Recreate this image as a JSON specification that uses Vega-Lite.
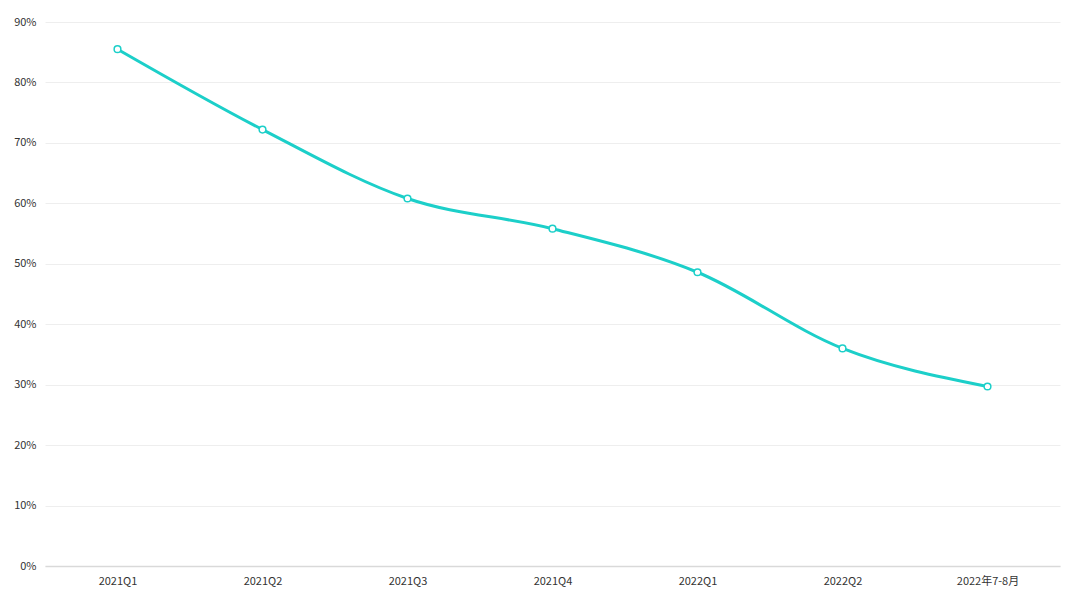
{
  "$schema": "https://vega.github.io/schema/vega-lite/v6.json",
  "width": 1015,
  "height": 544,
  "autosize": {"type": "none"},
  "padding": {"left": 45, "top": 22, "right": 20, "bottom": 38},
  "background": "white",
  "config": {
    "view": {"stroke": null},
    "font": "Noto Sans CJK SC",
    "axis": {"labelFont": "Noto Sans CJK SC", "labelColor": "#333333", "labelFontSize": 11}
  },
  "data": {
    "values": [
      {"period": "2021Q1", "value": 0.855},
      {"period": "2021Q2", "value": 0.722},
      {"period": "2021Q3", "value": 0.608},
      {"period": "2021Q4", "value": 0.558},
      {"period": "2022Q1", "value": 0.486},
      {"period": "2022Q2", "value": 0.360},
      {"period": "2022年7-8月", "value": 0.297}
    ]
  },
  "encoding": {
    "x": {
      "field": "period", "type": "nominal", "sort": null,
      "axis": {"title": null, "labelAngle": 0, "ticks": false, "domainColor": "#d9d9d9", "domainWidth": 1.5, "labelPadding": 9}
    },
    "y": {
      "field": "value", "type": "quantitative",
      "scale": {"domain": [0, 0.9], "nice": false},
      "axis": {"title": null, "format": ".0%", "values": [0, 0.1, 0.2, 0.3, 0.4, 0.5, 0.6, 0.7, 0.8, 0.9], "domain": false, "ticks": false, "gridColor": "#eeeeee", "labelPadding": 9}
    }
  },
  "layer": [
    {"mark": {"type": "line", "interpolate": "monotone", "color": "#1ccfc9", "strokeWidth": 3}},
    {"mark": {"type": "point", "filled": true, "fill": "white", "stroke": "#1ccfc9", "strokeWidth": 1.5, "size": 45, "opacity": 1}}
  ]
}
